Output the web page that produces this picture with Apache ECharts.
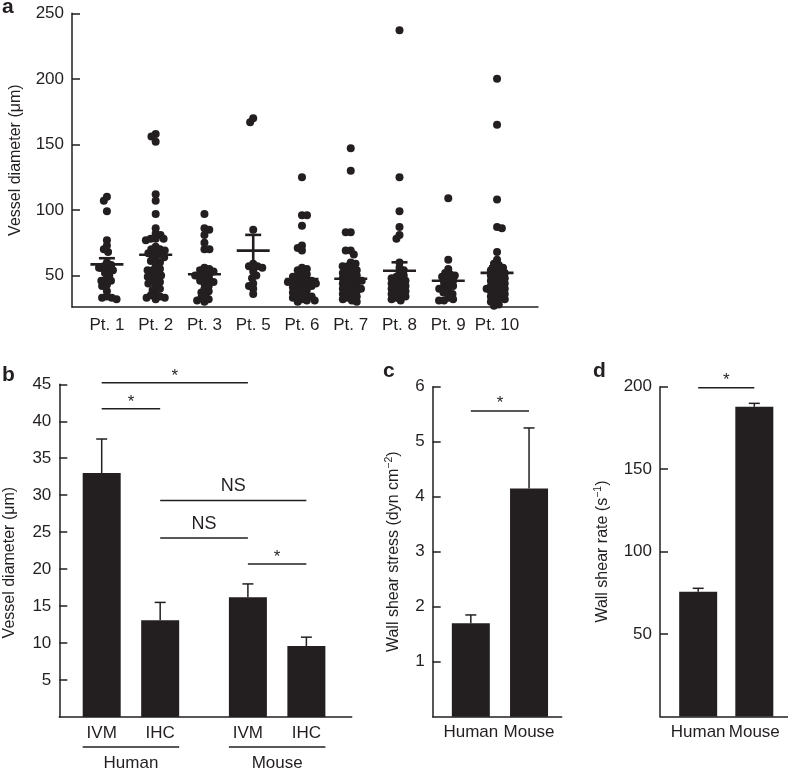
<!DOCTYPE html>
<html><head><meta charset="utf-8">
<script src="https://cdn.jsdelivr.net/npm/echarts@6/dist/echarts.min.js"></script>
<style>html,body{margin:0;padding:0;background:#fff}#c{width:788px;height:773px}</style>
</head><body><div id="c"></div>
<script>
// ---------- Panel a data ----------
const patients = ['Pt. 1','Pt. 2','Pt. 3','Pt. 5','Pt. 6','Pt. 7','Pt. 8','Pt. 9','Pt. 10'];
const pt1 = [110,107,99,77,73,70,68,60,58,57,56,55,54,52,50,47,46,46,43,42,38,34,33,32,33];
const pt2 = [158,156,152,112,107,97,86,82,81,78,78,78,77,72,70,70,69,68,67,66,65,64,62,61,60,57,55,54,54,52,50,50,49,48,46,45,44,42,40,39,36,35,34,33,33,32];
const pt3 = [97,86,85,81,75,70,70,56,55,54,53,52,51,50,50,48,47,46,45,44,42,40,38,37,35,33,32,31,30];
const pt5 = [170,167,85,59,57,57,56,53,50,48,44,42,40,36];
const pt6 = [125,96,96,88,73,71,69,56,55,54,52,51,50,49,48,47,46,46,45,45,44,44,43,42,42,41,40,39,38,37,36,35,34,34,33,32,31,31,30];
const pt7 = [147,130,83,83,69,69,66,60,59,57,57,55,54,53,52,51,50,49,48,47,46,46,45,44,43,42,41,40,40,39,38,37,36,35,34,33,32,31,30];
const pt8 = [237,125,99,87,81,78,60,56,54,52,50,49,48,47,46,45,44,43,42,41,40,39,38,37,36,35,34,33,32,31];
const pt9 = [109,62,55,52,51,50,49,47,46,45,43,42,41,40,38,37,36,33,32,31,31];
const pt10 = [200,165,108,87,86,68,62,59,58,56,55,54,53,52,51,50,49,48,47,46,45,44,43,42,41,40,40,39,38,37,36,35,34,33,32,31,30,28,27];
const ptValues = [pt1, pt2, pt3, pt5, pt6, pt7, pt8, pt9, pt10];
const ptMeans = [58.5, 65.8, 51.0, 69.0, 47.3, 47.5, 53.6, 46.0, 52.0];
const ptSEM = [4.7, 5.0, 4.2, 12.0, 3.5, 3.5, 6.5, 3.5, 5.0];
const aTicks = [50, 100, 150, 200, 250];

// ---------- Panel b data ----------
const bCats = ['IVM', 'IHC', 'IVM', 'IHC'];
const bGroups = ['Human', 'Human', 'Mouse', 'Mouse'];
const bMeans = [33.0, 13.1, 16.2, 9.6];
const bErr = [4.6, 2.4, 1.8, 1.2];
const bSigPairs = [[0, 2], [0, 1], [1, 3], [1, 2], [2, 3]];
const bSigLevels = [45.2, 41.7, 29.3, 24.2, 20.7];
const bSigLabels = ['*', '*', 'NS', 'NS', '*'];

// ---------- Panel c data ----------
const cCats = ['Human', 'Mouse'];
const cMeans = [1.70, 4.15];
const cErr = [0.15, 1.10];
const cSigLevel = 5.56;

// ---------- Panel d data ----------
const dCats = ['Human', 'Mouse'];
const dMeans = [75.6, 187.8];
const dErr = [2.1, 2.1];
const dSigLevel = 199.4;

const INK = '#231f20';
const FONT = 'Liberation Sans, Arial, sans-serif';
const TICK_FS = 17;
const NAME_FS = 16;

// positions on value x-axes (group gap in panel b)
const groupNames = [];
bGroups.forEach(g => { if (!groupNames.includes(g)) groupNames.push(g); });
const bPos = bCats.map((c, i) => i + groupNames.indexOf(bGroups[i]) * 0.5);
const aPos = patients.map((p, i) => i);
const cPos = cCats.map((c, i) => i);
const dPos = dCats.map((c, i) => i);

function labelFor(positions, names) {
  return v => { const k = positions.findIndex(p => Math.abs(p - v) < 1e-6); return k >= 0 ? names[k] : ''; };
}

function xAx(grid, min, max, positions, names, margin) {
  return {
    type: 'value', gridIndex: grid, min, max,
    axisLine: { show: true, onZero: false, lineStyle: { color: INK, width: 1.5 } },
    axisTick: { show: false },
    splitLine: { show: false },
    axisLabel: { customValues: positions, formatter: labelFor(positions, names), color: INK, fontSize: TICK_FS, fontFamily: FONT, margin: margin }
  };
}
function yAx(grid, min, max, extra) {
  return Object.assign({
    type: 'value', gridIndex: grid, min, max,
    axisLine: { show: true, onZero: false, lineStyle: { color: INK, width: 1.5 } },
    axisTick: { show: true, inside: true, length: 8, lineStyle: { color: INK, width: 1.5 } },
    axisLabel: { color: INK, fontSize: TICK_FS, fontFamily: FONT, margin: 8, showMinLabel: false },
    splitLine: { show: false },
    nameLocation: 'middle',
    nameTextStyle: { color: INK, fontSize: NAME_FS, fontFamily: FONT }
  }, extra);
}

function ln(x1, y1, x2, y2, w) {
  return { type: 'line', shape: { x1, y1, x2, y2 }, style: { stroke: INK, lineWidth: w || 1.5 } };
}

function errRender(params, api) {
  const x = api.value(0), y0 = api.value(1), y1 = api.value(2);
  const p0 = api.coord([x, y0]), p1 = api.coord([x, y1]);
  return { type: 'group', children: [ln(p0[0], p0[1], p1[0], p1[1]), ln(p1[0] - 5.5, p1[1], p1[0] + 5.5, p1[1])] };
}

function sigRender(labels, starOff, nsOff) {
  return function (params, api) {
    const x1 = api.value(0), x2 = api.value(1), y = api.value(2);
    const p1 = api.coord([x1, y]), p2 = api.coord([x2, y]);
    const lab = labels[params.dataIndex];
    const isStar = lab === '*';
    return { type: 'group', children: [
      ln(p1[0], p1[1], p2[0], p2[1]),
      { type: 'text', x: (p1[0] + p2[0]) / 2, y: p1[1] - (isStar ? starOff : nsOff),
        style: { text: lab, fill: INK, font: (isStar ? '17px ' : '18px ') + FONT, align: 'center', verticalAlign: 'middle' } }
    ] };
  };
}

function meanSemRender(params, api) {
  const x = api.value(0), m = api.value(1), lo = api.value(2), hi = api.value(3);
  const pm = api.coord([x, m]), pl = api.coord([x, lo]), ph = api.coord([x, hi]);
  const w = 2.6;
  return { type: 'group', children: [
    ln(pm[0], pl[1], pm[0], ph[1], w),
    ln(pm[0] - 8, pl[1], pm[0] + 8, pl[1], w),
    ln(pm[0] - 8, ph[1], pm[0] + 8, ph[1], w),
    ln(pm[0] - 16.5, pm[1], pm[0] + 16.5, pm[1], w)
  ] };
}

// group underline + name below panel b
const groupRanges = groupNames.map(g => {
  const idx = bGroups.map((x, i) => x === g ? i : -1).filter(i => i >= 0);
  return [bPos[idx[0]], bPos[idx[idx.length - 1]]];
});
function groupRender(params, api) {
  const a = api.coord([api.value(0), 0]), b = api.coord([api.value(1), 0]);
  const half = 19;
  const y = a[1];
  return { type: 'group', children: [
    ln(a[0] - half, y + 30, b[0] + half, y + 30),
    { type: 'text', x: (a[0] + b[0]) / 2, y: y + 46, style: { text: groupNames[params.dataIndex], fill: INK, font: TICK_FS + 'px ' + FONT, align: 'center', verticalAlign: 'middle' } }
  ] };
}

const chart = echarts.init(document.getElementById('c'));

const supStyle = { sup: { fontSize: 10.5, fontFamily: FONT, color: INK, verticalAlign: 'top', lineHeight: 19 } };
const option = {
  animation: false,
  backgroundColor: '#ffffff',
  grid: [
    { left: 66.7, top: 13.3, width: 471.3, height: 293.7 },
    { left: 59.3, top: 384.3, width: 292.4, height: 332.7 },
    { left: 432.7, top: 386.7, width: 129, height: 330 },
    { left: 660, top: 386.7, width: 130, height: 329.7 }
  ],
  xAxis: [
    xAx(0, -0.716, 8.84, aPos, patients, 10),
    xAx(1, -0.725, 4.275, bPos, bCats, 8),
    xAx(2, -0.655, 1.561, cPos, cCats, 7),
    xAx(3, -0.68, 1.60, dPos, dCats, 7)
  ],
  yAxis: [
    yAx(0, 26, 250, {
      name: 'Vessel diameter (\u03bcm)', nameGap: 48,
      axisTick: { show: true, inside: true, length: 8, customValues: aTicks, lineStyle: { color: INK, width: 1.5 } },
      axisLabel: { customValues: aTicks, color: INK, fontSize: TICK_FS, fontFamily: FONT, margin: 8 }
    }),
    yAx(1, 0, 45, { interval: 5, name: 'Vessel diameter (\u03bcm)', nameGap: 42,
      nameTextStyle: { color: INK, fontSize: NAME_FS, fontFamily: FONT, padding: [0, 24, 0, 0] } }),
    yAx(2, 0, 6, { interval: 1, name: 'Wall shear stress (dyn cm{sup|\u22122})', nameGap: 30,
      nameTextStyle: { color: INK, fontSize: NAME_FS, fontFamily: FONT, lineHeight: 19, rich: supStyle } }),
    yAx(3, 0, 200, { interval: 50, name: 'Wall shear rate (s{sup|\u22121})', nameGap: 48,
      nameTextStyle: { color: INK, fontSize: NAME_FS, fontFamily: FONT, lineHeight: 19, rich: supStyle } })
  ],
  graphic: [
    { type: 'text', x: 2, y: 7, style: { text: 'a', font: 'bold 21px ' + FONT, fill: INK, verticalAlign: 'middle' } },
    { type: 'text', x: 2, y: 375, style: { text: 'b', font: 'bold 21px ' + FONT, fill: INK, verticalAlign: 'middle' } },
    { type: 'text', x: 383, y: 371, style: { text: 'c', font: 'bold 21px ' + FONT, fill: INK, verticalAlign: 'middle' } },
    { type: 'text', x: 593, y: 371, style: { text: 'd', font: 'bold 21px ' + FONT, fill: INK, verticalAlign: 'middle' } }
  ],
  series: [
    { id: 'swarm', type: 'scatter', xAxisIndex: 0, yAxisIndex: 0, symbolSize: 8, itemStyle: { color: INK, opacity: 1 }, data: [] },
    { type: 'custom', xAxisIndex: 0, yAxisIndex: 0, renderItem: meanSemRender, z: 5,
      data: aPos.map((p, i) => [p, ptMeans[i], ptMeans[i] - ptSEM[i], ptMeans[i] + ptSEM[i]]) },

    { type: 'bar', xAxisIndex: 1, yAxisIndex: 1, barWidth: 38, itemStyle: { color: INK }, data: bPos.map((p, i) => [p, bMeans[i]]) },
    { type: 'custom', xAxisIndex: 1, yAxisIndex: 1, renderItem: errRender, z: 3, data: bPos.map((p, i) => [p, bMeans[i], bMeans[i] + bErr[i]]) },
    { type: 'custom', xAxisIndex: 1, yAxisIndex: 1, renderItem: sigRender(bSigLabels, 6.5, 14.5), clip: false,
      data: bSigPairs.map((pr, i) => [bPos[pr[0]], bPos[pr[1]], bSigLevels[i]]) },
    { type: 'custom', xAxisIndex: 1, yAxisIndex: 1, renderItem: groupRender, clip: false, data: groupRanges },

    { type: 'bar', xAxisIndex: 2, yAxisIndex: 2, barWidth: 38, itemStyle: { color: INK }, data: cPos.map((p, i) => [p, cMeans[i]]) },
    { type: 'custom', xAxisIndex: 2, yAxisIndex: 2, renderItem: errRender, z: 3, data: cPos.map((p, i) => [p, cMeans[i], cMeans[i] + cErr[i]]) },
    { type: 'custom', xAxisIndex: 2, yAxisIndex: 2, renderItem: sigRender(['*'], 7.5, 14.5), clip: false, data: [[cPos[0], cPos[1], cSigLevel]] },

    { type: 'bar', xAxisIndex: 3, yAxisIndex: 3, barWidth: 38, itemStyle: { color: INK }, data: dPos.map((p, i) => [p, dMeans[i]]) },
    { type: 'custom', xAxisIndex: 3, yAxisIndex: 3, renderItem: errRender, z: 3, data: dPos.map((p, i) => [p, dMeans[i], dMeans[i] + dErr[i]]) },
    { type: 'custom', xAxisIndex: 3, yAxisIndex: 3, renderItem: sigRender(['*'], 7.5, 14.5), clip: false, data: [[dPos[0], dPos[1], dSigLevel]] }
  ]
};
chart.setOption(option);

// deterministic beeswarm layout using the axis scales
const o = chart.convertToPixel({ xAxisIndex: 0, yAxisIndex: 0 }, [0, 50]);
const o2 = chart.convertToPixel({ xAxisIndex: 0, yAxisIndex: 0 }, [1, 100]);
const pxPerX = o2[0] - o[0];
const pxPerY = (o[1] - o2[1]) / 50;
const D = 5.0;
function swarm(vals, cx) {
  const placed = [], out = [];
  const sorted = vals.slice().sort((a, b) => b - a);
  sorted.forEach((v, k) => {
    const py = -v * pxPerY;
    const iv = [];
    placed.forEach(p => { const dy = Math.abs(p.y - py); if (dy < D) { const dx = Math.sqrt(D * D - dy * dy); iv.push([p.x - dx, p.x + dx]); } });
    const cands = [0];
    iv.forEach(r => cands.push(r[0], r[1]));
    const sgn = k % 2 ? 1 : -1;
    cands.sort((a, b) => (Math.abs(a) - Math.abs(b)) || (sgn * (a - b)));
    let x = 0;
    for (const c of cands) { if (iv.every(r => c <= r[0] + 1e-6 || c >= r[1] - 1e-6)) { x = c; break; } }
    placed.push({ x, y: py });
    out.push([cx + x / pxPerX, v]);
  });
  return out;
}
let swarmData = [];
ptValues.forEach((vals, i) => { swarmData = swarmData.concat(swarm(vals, aPos[i])); });
chart.setOption({ series: [{ id: 'swarm', data: swarmData }] });
</script></body></html>
